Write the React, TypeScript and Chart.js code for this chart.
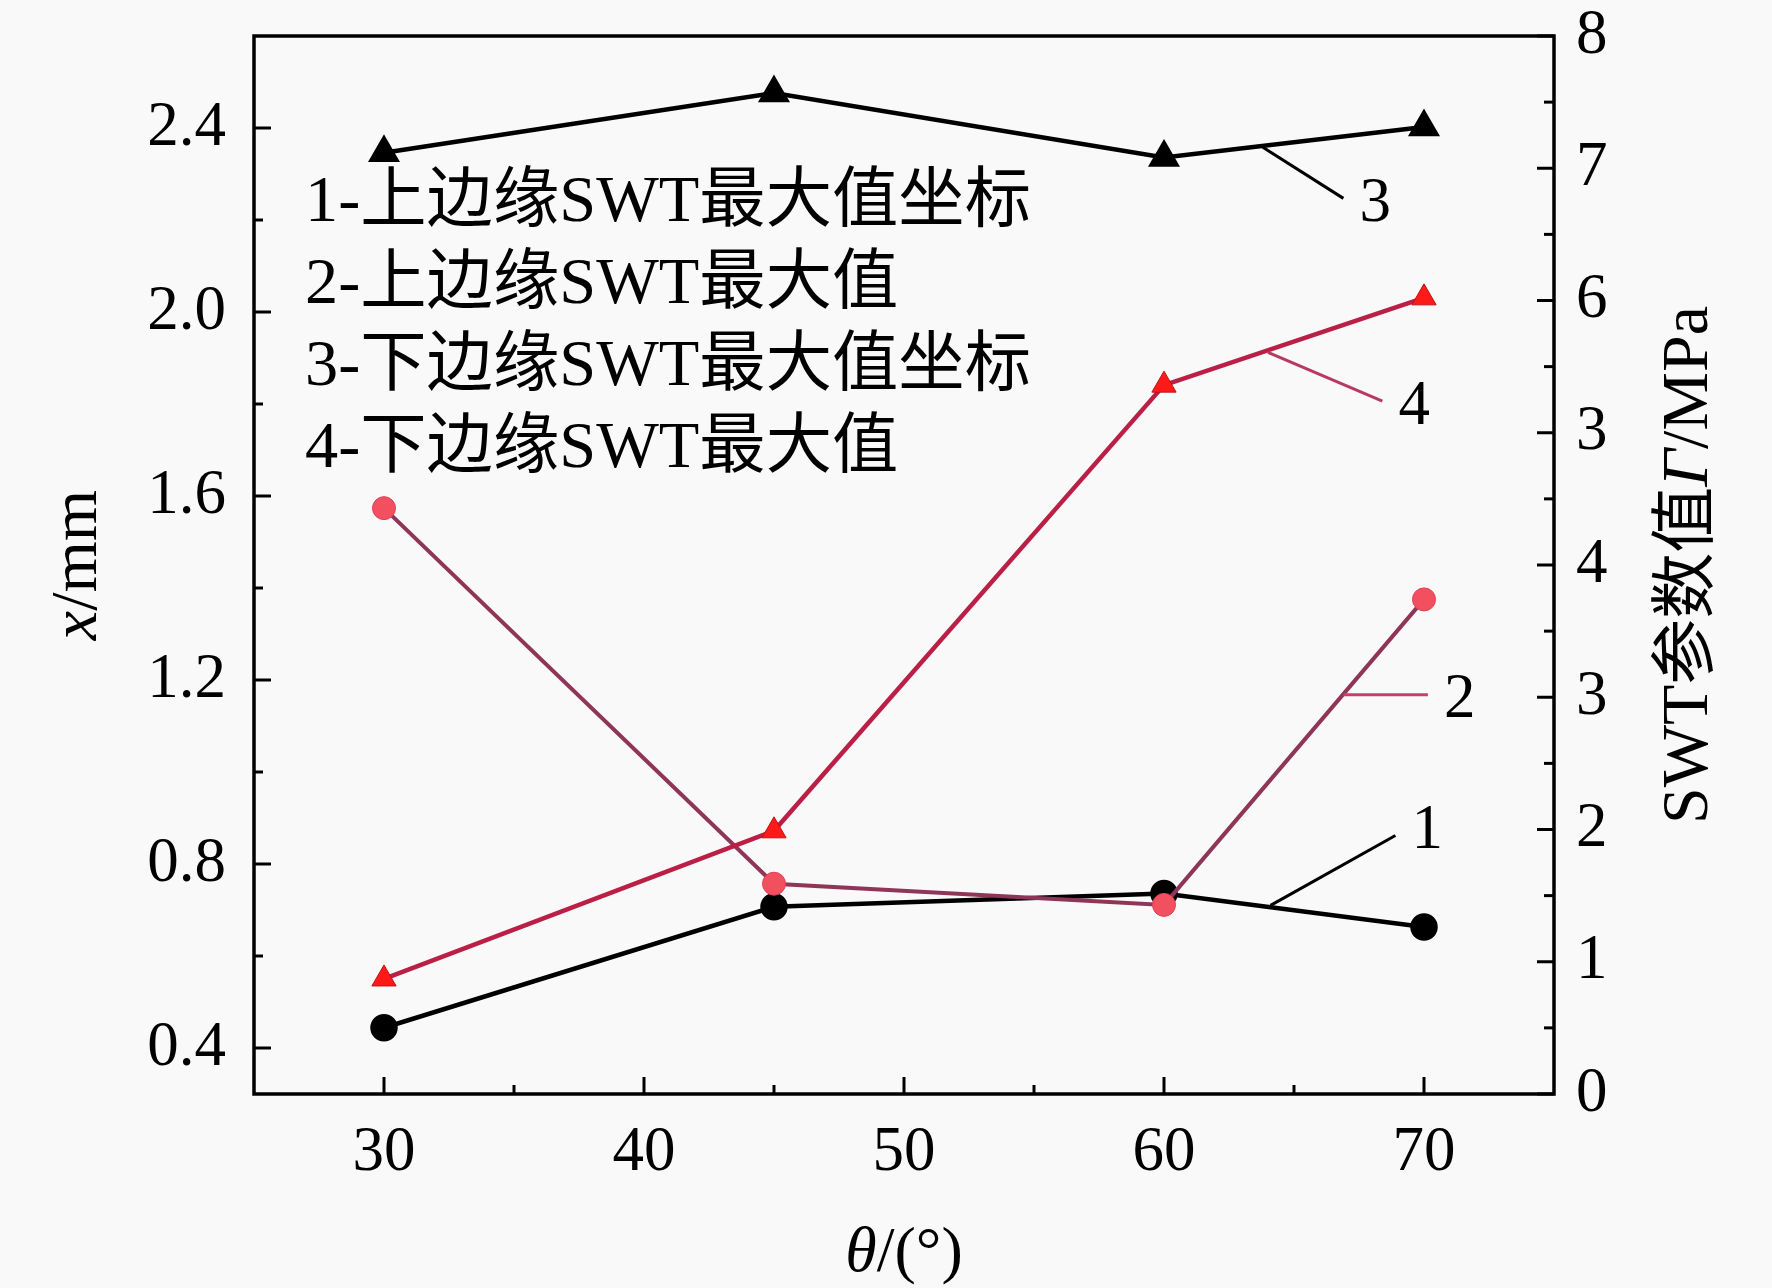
import { useEffect, useRef } from "react"
import { Chart, registerables } from "chart.js"

Chart.register(...registerables)

// θ/(°)
const angles = [30, 45, 60, 70]
// 1 - upper edge, SWT max coordinate (x/mm, left axis)
const upperCoord = [0.444, 0.707, 0.736, 0.663]
// 2 - upper edge, SWT max value (MPa, right axis)
const upperSwt = [4.43, 1.59, 1.43, 3.74]
// 3 - lower edge, SWT max coordinate (x/mm, left axis)
const lowerCoord = [2.346, 2.476, 2.336, 2.402]
// 4 - lower edge, SWT max value (MPa, right axis)
const lowerSwt = [0.87, 1.99, 5.36, 6.02]

const xTicks = [30, 40, 50, 60, 70]
const xMinor = [35, 45, 55, 65]
const leftTicks = [0.4, 0.8, 1.2, 1.6, 2.0, 2.4]
const leftMinor = [0.6, 1.0, 1.4, 1.8, 2.2]
const rightTicks = [0, 1, 2, 3, 4, 5, 6, 7, 8]
const rightTickLabels = ["0", "1", "2", "3", "4", "3", "6", "7", "8"]
const rightMinor = [0.5, 1.5, 2.5, 3.5, 4.5, 5.5, 6.5, 7.5]

const legendLines = [
  "1-上边缘SWT最大值坐标",
  "2-上边缘SWT最大值",
  "3-下边缘SWT最大值坐标",
  "4-下边缘SWT最大值",
]

// callout leaders, in (θ, x/mm) data space
const callouts = [
  { label: "1", from: [64.1, 0.71], to: [68.9, 0.862], color: "#000000" },
  { label: "2", from: [66.9, 1.168], to: [70.15, 1.168], color: "#c8406a" },
  { label: "3", from: [63.8, 2.358], to: [66.9, 2.247], color: "#000000" },
  { label: "4", from: [64.0, 1.912], to: [68.4, 1.806], color: "#b83a62" },
]

const SERIF = '"Liberation Serif", "Times New Roman", "Noto Sans CJK SC", serif'
const FONT_SIZE = 63

type Part = { t: string; i?: boolean }

function drawRich(ctx: CanvasRenderingContext2D, parts: Part[], cx: number, cy: number, angle: number, size: number) {
  const fontOf = (p: Part) => `${p.i ? "italic " : ""}${size}px ${SERIF}`
  let total = 0
  const widths = parts.map((p) => {
    ctx.font = fontOf(p)
    const w = ctx.measureText(p.t).width
    total += w
    return w
  })
  ctx.save()
  ctx.translate(cx, cy)
  ctx.rotate(angle)
  ctx.textBaseline = "middle"
  ctx.textAlign = "left"
  let x = -total / 2
  parts.forEach((p, k) => {
    ctx.font = fontOf(p)
    ctx.fillText(p.t, x, 0)
    x += widths[k]
  })
  ctx.restore()
}

const framePlugin = {
  id: "frame",
  afterDraw(chart: any) {
    const { ctx, chartArea: a, scales } = chart
    const sx = scales.x
    const sy = scales.y
    const sy1 = scales.y1
    ctx.save()
    ctx.fillStyle = "#000"
    ctx.strokeStyle = "#000"

    // box
    ctx.lineWidth = 3.5
    ctx.strokeRect(a.left, a.top, a.right - a.left, a.bottom - a.top)

    // inward ticks
    ctx.lineWidth = 3
    const tick = (x1: number, y1: number, x2: number, y2: number) => {
      ctx.beginPath()
      ctx.moveTo(x1, y1)
      ctx.lineTo(x2, y2)
      ctx.stroke()
    }
    xTicks.forEach((v) => { const p = sx.getPixelForValue(v); tick(p, a.bottom, p, a.bottom - 17) })
    xMinor.forEach((v) => { const p = sx.getPixelForValue(v); tick(p, a.bottom, p, a.bottom - 9) })
    leftTicks.forEach((v) => { const p = sy.getPixelForValue(v); tick(a.left, p, a.left + 17, p) })
    leftMinor.forEach((v) => { const p = sy.getPixelForValue(v); tick(a.left, p, a.left + 9, p) })
    rightTicks.forEach((v) => { const p = sy1.getPixelForValue(v); tick(a.right, p, a.right - 17, p) })
    rightMinor.forEach((v) => { const p = sy1.getPixelForValue(v); tick(a.right, p, a.right - 10, p) })

    // callouts
    ctx.lineWidth = 3
    callouts.forEach((c) => {
      const x1 = sx.getPixelForValue(c.from[0])
      const y1 = sy.getPixelForValue(c.from[1])
      const x2 = sx.getPixelForValue(c.to[0])
      const y2 = sy.getPixelForValue(c.to[1])
      ctx.strokeStyle = c.color
      tick(x1, y1, x2, y2)
      ctx.fillStyle = "#000"
      ctx.font = `${FONT_SIZE}px ${SERIF}`
      ctx.textAlign = "left"
      ctx.textBaseline = "middle"
      ctx.fillText(c.label, x2 + 16, y2 + (y2 < y1 ? -4 : 6))
    })

    // legend text
    ctx.font = `66px ${SERIF}`
    const target = 726
    const widest = ctx.measureText(legendLines[0]).width
    const k = target / widest
    ctx.textAlign = "left"
    ctx.textBaseline = "middle"
    legendLines.forEach((line, i) => {
      ctx.save()
      ctx.translate(a.left + 51, a.top + 168 + i * 82)
      ctx.scale(k, 1)
      ctx.fillText(line, 0, 0)
      ctx.restore()
    })

    // axis titles
    const midY = (a.top + a.bottom) / 2
    drawRich(ctx, [{ t: "x", i: true }, { t: "/mm" }], a.left - 175, midY, -Math.PI / 2, 66)
    drawRich(ctx, [{ t: "SWT参数值" }, { t: "Γ", i: true }, { t: "/MPa" }], a.right + 136, midY, -Math.PI / 2, 66)
    drawRich(ctx, [{ t: "θ", i: true }, { t: "/(°)" }], (a.left + a.right) / 2, a.bottom + 160, 0, 64)

    ctx.restore()
  },
}

export default function App() {
  const chartRef = useRef<HTMLCanvasElement>(null)
  const chartInstance = useRef<Chart | null>(null)

  useEffect(() => {
    if (!chartRef.current) return
    const ctx = chartRef.current.getContext("2d")
    if (!ctx) return
    if (chartInstance.current) chartInstance.current.destroy()

    const tickFont = { family: SERIF, size: FONT_SIZE }
    const pts = (ys: number[]) => angles.map((a, i) => ({ x: a, y: ys[i] }))
    const fitY = (w: number) => (s: any) => {
      s.width = w
      s.paddingTop = 0
      s.paddingBottom = 0
    }

    chartInstance.current = new Chart(ctx, {
      type: "line",
      data: {
        datasets: [
          {
            label: "4-下边缘SWT最大值",
            data: pts(lowerSwt),
            yAxisID: "y1",
            borderColor: "#bb1f45",
            borderWidth: 4.5,
            pointStyle: "triangle",
            pointRadius: 14,
            pointBackgroundColor: "#ff1a1a",
            pointBorderColor: "#c01010",
            pointBorderWidth: 1,
          },
          {
            label: "2-上边缘SWT最大值",
            data: pts(upperSwt),
            yAxisID: "y1",
            borderColor: "#8e3558",
            borderWidth: 4,
            pointStyle: "circle",
            pointRadius: 11.5,
            pointBackgroundColor: "#f2505f",
            pointBorderColor: "#e04058",
            pointBorderWidth: 1,
          },
          {
            label: "1-上边缘SWT最大值坐标",
            data: pts(upperCoord),
            yAxisID: "y",
            borderColor: "#000000",
            borderWidth: 4.5,
            pointStyle: "circle",
            pointRadius: 11.5,
            pointBackgroundColor: "#000000",
            pointBorderColor: "#000000",
          },
          {
            label: "3-下边缘SWT最大值坐标",
            data: pts(lowerCoord),
            yAxisID: "y",
            borderColor: "#000000",
            borderWidth: 4.5,
            pointStyle: "triangle",
            pointRadius: 14,
            pointBackgroundColor: "#000000",
            pointBorderColor: "#000000",
          },
        ],
      },
      options: {
        responsive: true,
        maintainAspectRatio: false,
        animation: false,
        layout: { padding: { top: 36, left: 0, right: 0, bottom: 0 } },
        plugins: { legend: { display: false }, tooltip: { enabled: false } },
        scales: {
          x: {
            type: "linear",
            min: 25,
            max: 75,
            afterBuildTicks: (s: any) => { s.ticks = xTicks.map((v) => ({ value: v })) },
            afterFit: (s: any) => {
              s.height = 194
              s.paddingLeft = 0
              s.paddingRight = 0
            },
            grid: { display: false, drawTicks: false },
            border: { display: false },
            ticks: { font: tickFont, color: "#000", padding: 22, maxRotation: 0 },
          },
          y: {
            type: "linear",
            position: "left",
            min: 0.3,
            max: 2.6,
            afterBuildTicks: (s: any) => { s.ticks = leftTicks.map((v) => ({ value: v })) },
            afterFit: fitY(254),
            grid: { display: false, drawTicks: false },
            border: { display: false },
            ticks: { font: tickFont, color: "#000", padding: 28, callback: (v: any) => Number(v).toFixed(1) },
          },
          y1: {
            type: "linear",
            position: "right",
            min: 0,
            max: 8,
            afterBuildTicks: (s: any) => { s.ticks = rightTicks.map((v) => ({ value: v })) },
            afterFit: fitY(218),
            grid: { display: false, drawTicks: false },
            border: { display: false },
            ticks: { font: tickFont, color: "#000", padding: 22, callback: (_v: any, i: number) => rightTickLabels[i] },
          },
        },
      },
      plugins: [framePlugin],
    })

    return () => {
      if (chartInstance.current) {
        chartInstance.current.destroy()
        chartInstance.current = null
      }
    }
  }, [])

  return (
    <div style={{ position: "fixed", left: 0, top: 0, width: 1772, height: 1288, background: "#f9f9f9" }}>
      <canvas ref={chartRef} aria-label="SWT chart" role="img"></canvas>
    </div>
  )
}
